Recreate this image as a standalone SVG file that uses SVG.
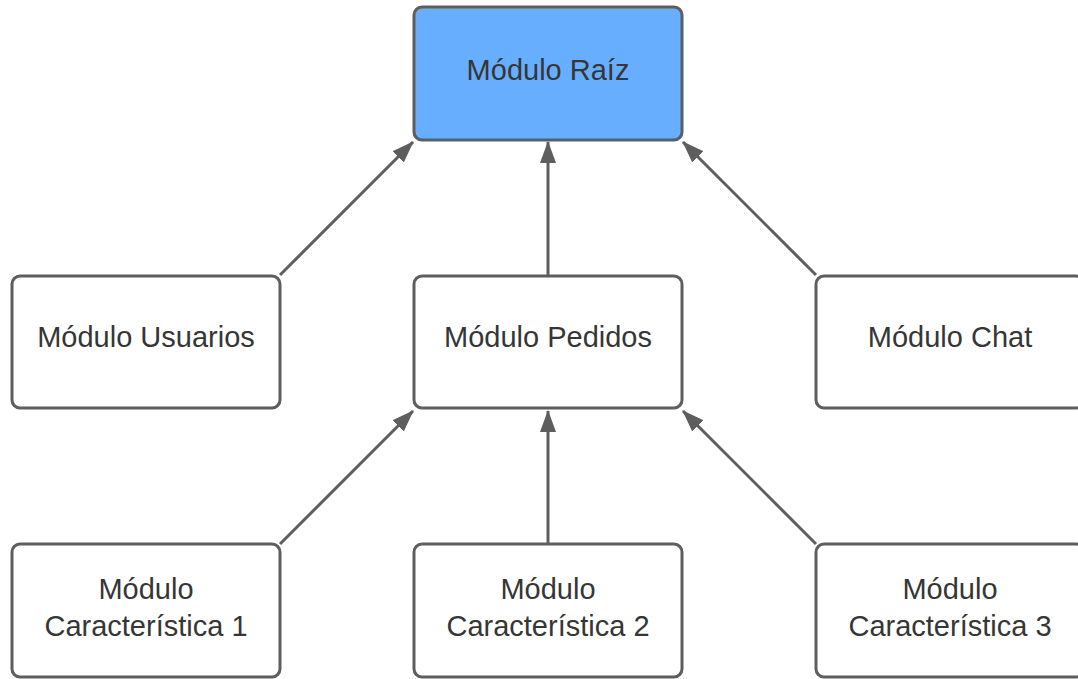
<svg xmlns="http://www.w3.org/2000/svg" width="1078" height="679" viewBox="0 0 1078 679">
  <style>
    .box { fill: #ffffff; stroke: #5e5e5e; stroke-width: 3; }
    .root { fill: #68aeff; }
    .label { font-family: "Liberation Sans", Arial, sans-serif; font-size: 29px; fill: #363636; text-anchor: middle; }
    .edge { stroke: #5e5e5e; stroke-width: 3; fill: none; marker-end: url(#arrow); }
  </style>
  <defs>
    <marker id="arrow" viewBox="0 0 22 16" refX="21" refY="8" markerWidth="22" markerHeight="16" markerUnits="userSpaceOnUse" orient="auto">
      <path d="M0,0 L22,8 L0,16 Z" fill="#5e5e5e"/>
    </marker>
  </defs>
  <rect width="1078" height="679" fill="#ffffff"/>

  <g id="connectors">
    <line class="edge" x1="280" y1="275" x2="413" y2="142"/>
    <line class="edge" x1="548" y1="275" x2="548" y2="142"/>
    <line class="edge" x1="816" y1="275" x2="683" y2="142"/>
    <line class="edge" x1="280" y1="544" x2="413" y2="411"/>
    <line class="edge" x1="548" y1="544" x2="548" y2="411"/>
    <line class="edge" x1="816" y1="544" x2="683" y2="411"/>
  </g>

  <g id="modulo-raiz">
    <rect class="box root" x="414" y="7" width="268" height="133" rx="8"/>
    <text class="label" x="548" y="80">Módulo Raíz</text>
  </g>

  <g id="modulo-usuarios">
    <rect class="box" x="12" y="276" width="268" height="132" rx="8"/>
    <text class="label" x="146" y="347">Módulo Usuarios</text>
  </g>

  <g id="modulo-pedidos">
    <rect class="box" x="414" y="276" width="268" height="132" rx="8"/>
    <text class="label" x="548" y="347">Módulo Pedidos</text>
  </g>

  <g id="modulo-chat">
    <rect class="box" x="816" y="276" width="268" height="132" rx="8"/>
    <text class="label" x="950" y="347">Módulo Chat</text>
  </g>

  <g id="modulo-caracteristica-1">
    <rect class="box" x="12" y="544" width="268" height="133" rx="8"/>
    <text class="label" x="146" y="599">Módulo</text>
    <text class="label" x="146" y="636">Característica 1</text>
  </g>

  <g id="modulo-caracteristica-2">
    <rect class="box" x="414" y="544" width="268" height="133" rx="8"/>
    <text class="label" x="548" y="599">Módulo</text>
    <text class="label" x="548" y="636">Característica 2</text>
  </g>

  <g id="modulo-caracteristica-3">
    <rect class="box" x="816" y="544" width="268" height="133" rx="8"/>
    <text class="label" x="950" y="599">Módulo</text>
    <text class="label" x="950" y="636">Característica 3</text>
  </g>
</svg>
